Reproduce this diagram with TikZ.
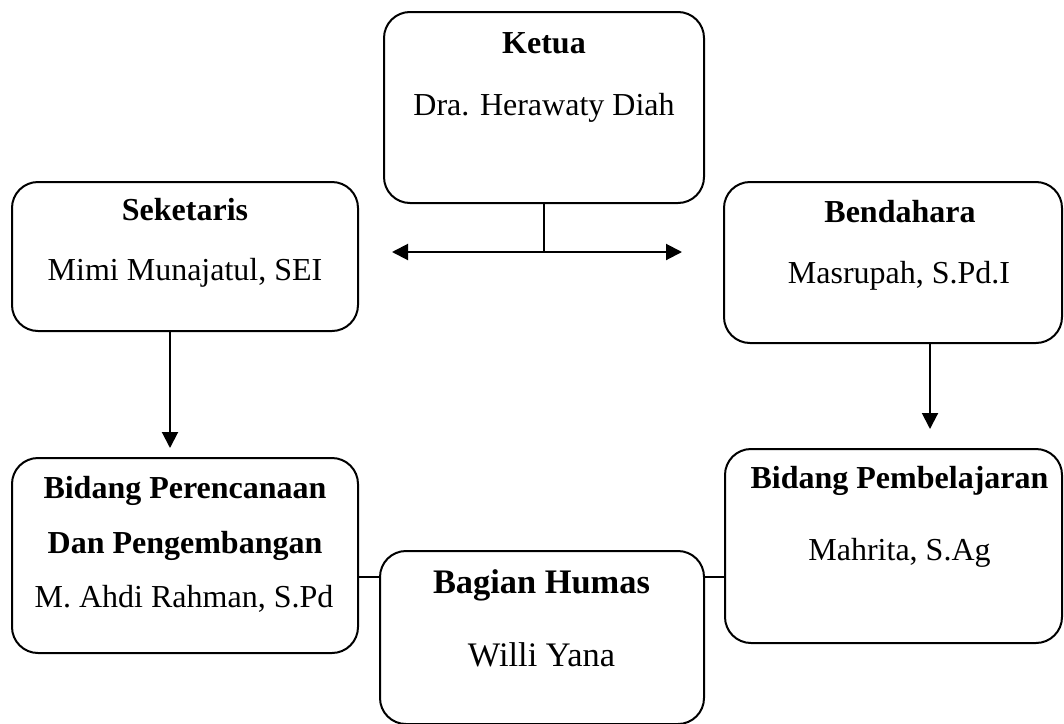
\documentclass[tikz,border=0pt]{standalone}
\usepackage{fontspec}
\setmainfont{Liberation Serif}
\usetikzlibrary{arrows.meta}
\begin{document}
\begin{tikzpicture}[x=1pt,y=-1pt,
  box/.style={draw, line width=2pt, rounded corners=26pt, inner sep=0pt, outer sep=0pt, rectangle},
  ttl/.style={anchor=base, inner sep=0pt, font=\fontsize{32}{38}\selectfont\bfseries},
  nm/.style={anchor=base, inner sep=0pt, font=\fontsize{32}{38}\selectfont},
  bigttl/.style={anchor=base, inner sep=0pt, font=\fontsize{34.4}{40}\selectfont\bfseries},
  bignm/.style={anchor=base, inner sep=0pt, font=\fontsize{34.4}{40}\selectfont},
  conn/.style={line width=2pt},
  arr/.style={line width=2pt, -{Triangle[length=16pt,width=16pt]}},
  darr/.style={line width=2pt, {Triangle[length=16pt,width=16pt]}-{Triangle[length=16pt,width=16pt]}}
]
\useasboundingbox (0,0) rectangle (1064,723);

% boxes
\node[box, minimum width=320pt, minimum height=191pt] (ket) at (544,107.5) {};
\node[box, minimum width=346pt, minimum height=149pt] (sek) at (185,256.5) {};
\node[box, minimum width=338pt, minimum height=161pt] (ben) at (893,262.5) {};
\node[box, minimum width=346pt, minimum height=195pt] (per) at (185,555.5) {};
\node[box, minimum width=337pt, minimum height=194pt] (pem) at (893.5,546) {};
\node[box, minimum width=324pt, minimum height=173pt] (hum) at (542,637.5) {};

% texts
\node[ttl] (ketT) at (544,53) {Ketua};
\node[nm] (ketN) at (544,115) {Dra. Herawaty Diah};
\node[ttl] (sekT) at (185,220) {Seketaris};
\node[nm] (sekN) at (185,280) {Mimi Munajatul, SEI};
\node[ttl] (benT) at (900,222) {Bendahara};
\node[nm] (benN) at (899,283) {Masrupah, S.Pd.I};
\node[ttl] (perT1) at (185,498) {Bidang Perencanaan};
\node[ttl] (perT2) at (185,553) {Dan Pengembangan};
\node[nm] (perN) at (184,607) {M. Ahdi Rahman, S.Pd};
\node[ttl] (pemT) at (899.5,488) {Bidang Pembelajaran};
\node[nm] (pemN) at (899.5,560) {Mahrita, S.Ag};
\node[bigttl] (humT) at (541.5,593) {Bagian Humas};
\node[bignm] (humN) at (541.5,666) {Willi Yana};

% connectors
\coordinate (jL) at (392,252);
\coordinate (jR) at (682,252);
\draw[conn] (ket.south) -- (ket.south |- jL);
\draw[darr] (jL) -- (jR);

\coordinate (a1) at (170,448);
\draw[arr] (sek.south -| a1) -- (a1);
\coordinate (a2) at (930,429);
\draw[arr] (ben.south -| a2) -- (a2);

\coordinate (c1) at (0,576.5);
\draw[conn] (per.east |- c1) -- (hum.west |- c1);
\draw[conn] (hum.east |- c1) -- (pem.west |- c1);
\end{tikzpicture}
\end{document}
